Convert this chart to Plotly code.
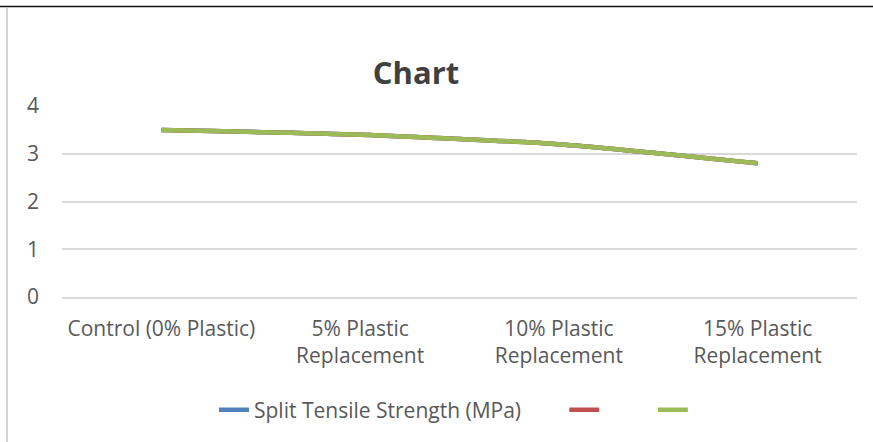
import plotly.graph_objects as go

# Mix designs and measured split tensile strength (MPa)
categories = [
    "Control (0% Plastic)",
    "5% Plastic<br>Replacement",
    "10% Plastic<br>Replacement",
    "15% Plastic<br>Replacement",
]
split_tensile = [3.5, 3.4, 3.2, 2.8]
series_b = [3.5, 3.4, 3.2, 2.8]
series_c = [3.5, 3.4, 3.2, 2.8]
y_ticks = [0, 1, 2, 3, 4]

W, H = 873, 442
ML, MR, MT, MB = 62, 16, 106, 145
FONT = "Open Sans"
TXT = "#595959"
FS = 21
NB = "\u00a0"

fig = go.Figure()
for name, vals, color in [
    ("Split Tensile Strength (MPa)" + NB * 7, split_tensile, "#4f81bd"),
    (NB * 8, series_b, "#c0504d"),
    (NB, series_c, "#9bbb59"),
]:
    fig.add_trace(go.Scatter(
        x=categories, y=vals, name=name, mode="lines",
        line=dict(color=color, width=4.5, shape="spline", smoothing=0.6),
    ))

def px_to_paper_x(px):
    return (px - ML) / (W - ML - MR)

def px_to_paper_y(py):
    return 1 - (py - MT) / (H - MT - MB)

# page frame: dark rule along the top and a light rule at the left
fig.add_shape(type="line", xref="paper", yref="paper",
              x0=px_to_paper_x(0), x1=px_to_paper_x(W),
              y0=px_to_paper_y(6.5), y1=px_to_paper_y(6.5),
              line=dict(color="#111111", width=1.5))
fig.add_shape(type="line", xref="paper", yref="paper",
              x0=px_to_paper_x(7), x1=px_to_paper_x(7),
              y0=px_to_paper_y(8), y1=px_to_paper_y(H),
              line=dict(color="#d4d4d4", width=2))

fig.update_layout(
    width=W, height=H,
    margin=dict(l=ML, r=MR, t=MT, b=MB),
    paper_bgcolor="white", plot_bgcolor="white",
    font=dict(family=FONT, size=FS, color=TXT),
    title=dict(text="<b>Chart</b>", x=(416 / W), xanchor="center",
               xref="container", yref="container", y=1 - 73 / H, yanchor="middle",
               font=dict(family=FONT, size=31, color="#404040")),
    showlegend=True,
    legend=dict(orientation="h", x=214 / W, xanchor="left", xref="container",
                yref="container", y=1 - 410 / H, yanchor="middle",
                font=dict(family=FONT, size=FS, color=TXT),
                traceorder="normal"),
    xaxis=dict(type="category", range=[-0.5, 3.5], showgrid=False,
               showline=True, linecolor="#d9d9d9", linewidth=1.5,
               ticks="", tickfont=dict(family=FONT, size=FS, color=TXT),
               ticklabelstandoff=12),
    yaxis=dict(range=[0, 4], tickvals=y_ticks, showgrid=True,
               gridcolor="#d9d9d9", gridwidth=1.5, zeroline=False,
               showline=False, ticks="", ticklabelstandoff=22,
               tickfont=dict(family=FONT, size=FS, color=TXT)),
)

fig.write_html("out.html")
